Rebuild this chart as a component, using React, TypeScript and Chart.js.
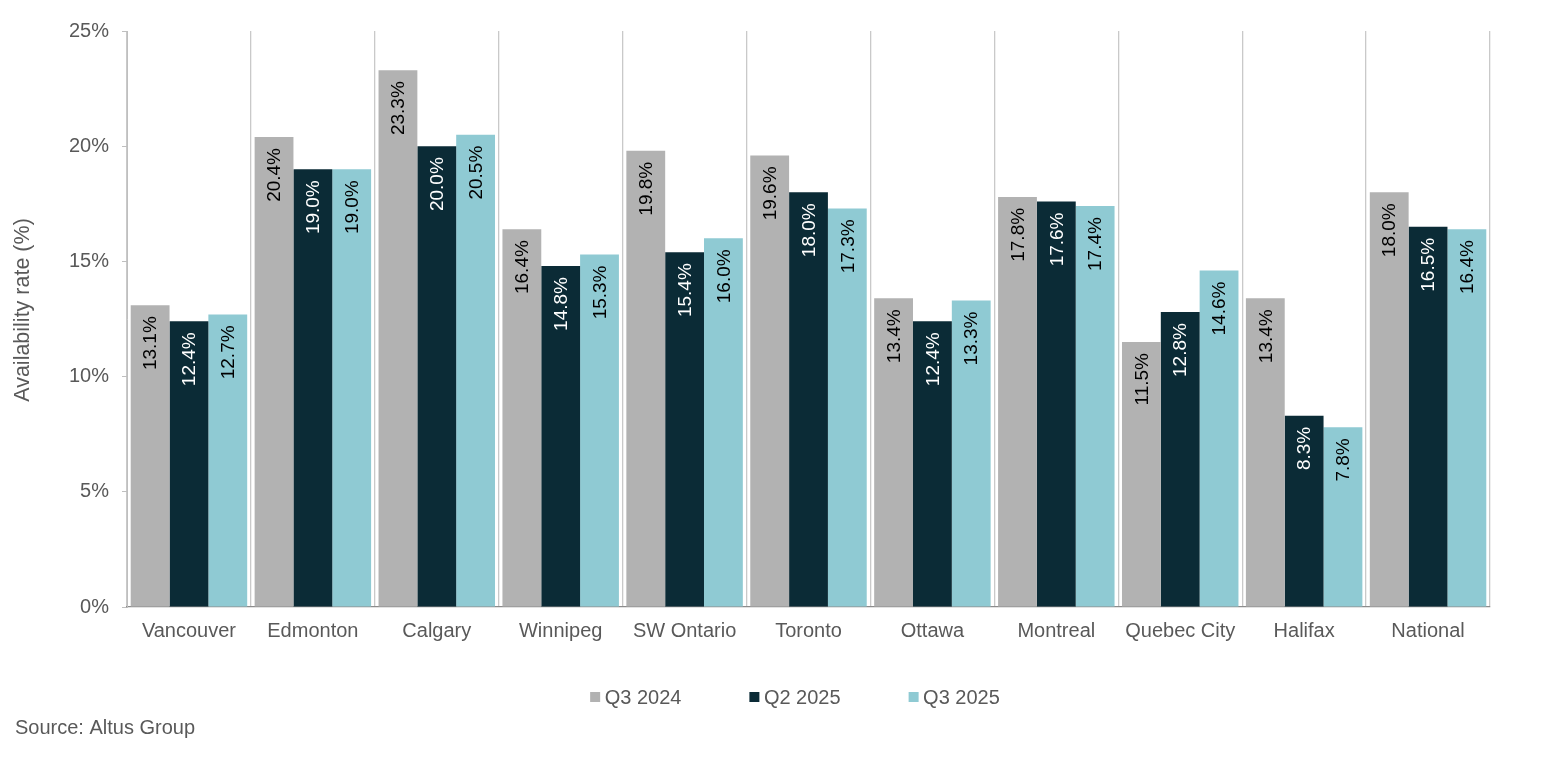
import React, { useEffect, useRef } from "react";
import { Chart, registerables } from "chart.js";

Chart.register(...registerables);

const categories = [
  "Vancouver",
  "Edmonton",
  "Calgary",
  "Winnipeg",
  "SW Ontario",
  "Toronto",
  "Ottawa",
  "Montreal",
  "Quebec City",
  "Halifax",
  "National",
];

const seriesNames = ["Q3 2024", "Q2 2025", "Q3 2025"];
const q3_2024 = [13.1, 20.4, 23.3, 16.4, 19.8, 19.6, 13.4, 17.8, 11.5, 13.4, 18.0];
const q2_2025 = [12.4, 19.0, 20.0, 14.8, 15.4, 18.0, 12.4, 17.6, 12.8, 8.3, 16.5];
const q3_2025 = [12.7, 19.0, 20.5, 15.3, 16.0, 17.3, 13.3, 17.4, 14.6, 7.8, 16.4];

const yTicks = [0, 5, 10, 15, 20, 25];
const yTitle = "Availability rate (%)";
const sourceText = "Source: Altus Group";

const COLORS = ["#B2B2B2", "#0B2B36", "#8FCAD3"];
const LABEL_COLORS = ["#000000", "#FFFFFF", "#000000"];
const FONT = "'Liberation Sans', Arial, sans-serif";
const TEXT = "#595959";

const dataLabelPlugin = {
  id: "dataLabels",
  afterDatasetsDraw(chart: any) {
    const ctx = chart.ctx;
    chart.data.datasets.forEach((ds: any, di: number) => {
      const meta = chart.getDatasetMeta(di);
      meta.data.forEach((el: any, i: number) => {
        const v = ds.data[i];
        ctx.save();
        ctx.font = `19px ${FONT}`;
        ctx.fillStyle = LABEL_COLORS[di];
        ctx.translate(el.x, el.y + 11);
        ctx.rotate(-Math.PI / 2);
        ctx.textAlign = "right";
        ctx.textBaseline = "middle";
        ctx.fillText(v.toFixed(1) + "%", 0, 1);
        ctx.restore();
      });
    });
  },
};

const titleLegendSourcePlugin = {
  id: "titleLegendSource",
  afterDraw(chart: any) {
    const ctx = chart.ctx;
    ctx.save();
    // y-axis title
    ctx.save();
    ctx.font = `21.5px ${FONT}`;
    ctx.fillStyle = TEXT;
    ctx.translate(23, chart.chartArea.top + (chart.chartArea.bottom - chart.chartArea.top) / 2 - 9);
    ctx.rotate(-Math.PI / 2);
    ctx.textAlign = "center";
    ctx.textBaseline = "middle";
    ctx.fillText(yTitle, 0, 0);
    ctx.restore();

    // legend
    ctx.font = `20px ${FONT}`;
    ctx.textBaseline = "middle";
    const box = 10;
    const gapBox = 4.5;
    const gapItem = 68;
    const labels = chart.data.datasets.map((d: any) => d.label);
    const widths = labels.map((l: string) => box + gapBox + ctx.measureText(l).width);
    const total = widths.reduce((a: number, b: number) => a + b, 0) + gapItem * (labels.length - 1);
    const centerX = 795;
    const legendY = 697;
    let x = centerX - total / 2;
    labels.forEach((l: string, i: number) => {
      ctx.fillStyle = chart.data.datasets[i].backgroundColor;
      ctx.fillRect(x, legendY - box / 2, box, box);
      ctx.fillStyle = TEXT;
      ctx.textAlign = "left";
      ctx.fillText(l, x + box + gapBox, legendY + 1);
      x += widths[i] + gapItem;
    });
    ctx.textAlign = "left";
    ctx.fillStyle = TEXT;
    ctx.fillText(sourceText, 15, 728);
    ctx.restore();
  },
};

export default function App() {
  const ref = useRef<HTMLCanvasElement | null>(null);
  useEffect(() => {
    if (!ref.current) return;
    const seriesValues = [q3_2024, q2_2025, q3_2025];
    const chart = new Chart(ref.current, {
      type: "bar",
      data: {
        labels: categories,
        datasets: seriesNames.map((name, i) => ({
          label: name,
          data: seriesValues[i],
          backgroundColor: COLORS[i],
          borderWidth: 0,
          categoryPercentage: 0.94,
          barPercentage: 1.0,
        })),
      },
      options: {
        animation: false,
        responsive: true,
        maintainAspectRatio: false,
        layout: { padding: { top: 31, right: 55, bottom: 114, left: 0 } },
        plugins: {
          legend: { display: false },
          tooltip: { enabled: false },
        },
        scales: {
          x: {
            offset: true,
            grid: {
              display: true,
              offset: true,
              drawTicks: false,
              color: "#C9C9C9",
              lineWidth: 1.3,
            },
            border: { display: true, color: "#8C8C8C", width: 1.3 },
            ticks: {
              color: TEXT,
              font: { family: FONT, size: 20 },
              padding: 12,
              maxRotation: 0,
              autoSkip: false,
            },
            afterFit(scale: any) {
              scale.height = 40;
            },
          },
          y: {
            min: 0,
            max: 25,
            afterBuildTicks(scale: any) {
              scale.ticks = yTicks.map((v) => ({ value: v }));
            },
            grid: {
              drawOnChartArea: false,
              drawTicks: true,
              tickLength: 5,
              color: "#BFBFBF",
            },
            border: { display: true, color: "#BFBFBF" },
            ticks: {
              color: TEXT,
              font: { family: FONT, size: 20 },
              padding: 13,
              callback: (v: any) => v + "%",
            },
            afterFit(scale: any) {
              scale.width = 127;
            },
          },
        },
      },
      plugins: [dataLabelPlugin, titleLegendSourcePlugin],
    });
    return () => chart.destroy();
  }, []);

  return (
    <div style={{ position: "fixed", left: 0, top: 0, width: 1545, height: 761, background: "#fff" }}>
      <canvas ref={ref} />
    </div>
  );
}
